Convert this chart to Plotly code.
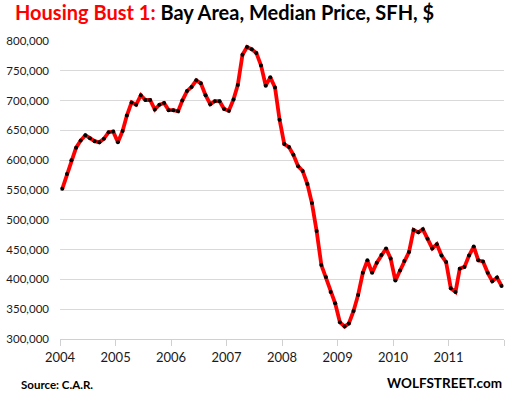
import pandas as pd
import plotly.graph_objects as go

# Monthly median price, Jan 2004 .. Dec 2011 (in $)
start_month = "2004-01-01"
prices_k = [
    552, 577, 600, 621, 633, 642, 637, 632, 630, 636, 647, 648,   # 2004
    630, 649, 675, 697, 693, 709, 701, 701, 685, 693, 696, 684,   # 2005
    684, 682, 700, 716, 723, 734, 729, 709, 694, 699, 699, 686,   # 2006
    683, 702, 726, 777, 790, 786, 780, 759, 725, 739, 722, 668,   # 2007
    627, 622, 609, 590, 582, 560, 528, 481, 424, 404, 379, 360,   # 2008
    328, 321, 326, 347, 374, 411, 432, 411, 428, 441, 452, 435,   # 2009
    398, 415, 431, 446, 483, 479, 484, 468, 452, 459, 440, 429,   # 2010
    385, 379, 418, 421, 440, 455, 432, 430, 411, 397, 403, 389,   # 2011
]
prices = [p * 1000 for p in prices_k]
year_ticks = [2004, 2005, 2006, 2007, 2008, 2009, 2010, 2011, 2012]
year_labels = ["2004", "2005", "2006", "2007", "2008", "2009", "2010", "2011", ""]

months = pd.date_range(start_month, periods=len(prices), freq="MS") + pd.Timedelta(days=15)

fig = go.Figure()
fig.add_trace(go.Scatter(
    x=months, y=prices, mode="lines+markers",
    line=dict(color="#ff0000", width=3.8),
    marker=dict(color="#000000", size=4),
    hoverinfo="x+y",
))

fig.update_layout(
    width=512, height=399,
    margin=dict(l=60, r=8, t=41, b=60),
    paper_bgcolor="white", plot_bgcolor="white",
    showlegend=False,
    font=dict(family="Lato, Arial, sans-serif", color="#1a1a1a"),
    title=dict(
        text="<span style='color:#ff0000'>Housing Bust 1:</span> Bay Area, Median Price, SFH, $",
        font=dict(family="Lato, Arial, sans-serif", size=20, color="#000000", weight="bold"),
        xref="container", x=15/512, xanchor="left",
        yref="container", y=1-13/399, yanchor="middle",
    ),
    xaxis=dict(
        type="date", automargin=False,
        range=["2004-01-01", "2012-01-01"],
        tickvals=[f"{y}-01-01" for y in year_ticks],
        ticktext=year_labels,
        showgrid=False, zeroline=False,
        showline=True, linecolor="#d0d0d0", linewidth=1,
        ticks="outside", ticklen=6, tickcolor="#d0d0d0",
        tickfont=dict(size=13, color="#1a1a1a"),
    ),
    yaxis=dict(
        automargin=False,
        range=[300000, 800000], dtick=50000, tickformat=",",
        showgrid=True, gridcolor="#d9d9d9", gridwidth=1,
        zeroline=False, showline=False,
        ticklabelstandoff=10,
        tickfont=dict(size=11.5, color="#1a1a1a"),
    ),
    annotations=[
        dict(text="<b>Source: C.A.R.</b>", xref="paper", yref="paper",
             x=(19-60)/444, y=(339-384)/298, xanchor="left", yanchor="middle",
             showarrow=False, font=dict(size=11.5, color="#000000")),
        dict(text="<b>WOLFSTREET.com</b>", xref="paper", yref="paper",
             x=1.0, y=(339-383)/298, xanchor="right", yanchor="middle",
             showarrow=False, font=dict(size=13.5, color="#000000")),
    ],
)

fig.write_html("out.html", config={"displayModeBar": False},
               post_script="document.body.style.margin='0';")
